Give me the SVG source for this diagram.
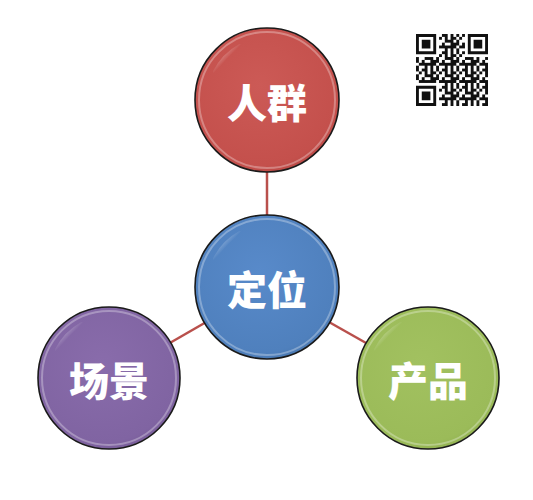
<svg xmlns="http://www.w3.org/2000/svg" width="533" height="500" viewBox="0 0 533 500">
<defs>
<style>
.lbl{font-family:"Noto Sans CJK SC","Noto Sans",sans-serif;font-weight:900;font-size:40px;fill:#fff;text-anchor:middle;dominant-baseline:central}
.ring{fill:none;stroke:#1a1a1a;stroke-width:1.6}
.rim{fill:none;stroke:#fff;stroke-opacity:0.3;stroke-width:2}
.conn{stroke:#b9504c;stroke-width:2.5}
</style>
<radialGradient id="gRed" cx="0.45" cy="0.4" r="0.65"><stop offset="0" stop-color="#cc5a56"/><stop offset="0.85" stop-color="#c4504c"/><stop offset="1" stop-color="#b84744"/></radialGradient>
<radialGradient id="gBlue" cx="0.45" cy="0.4" r="0.65"><stop offset="0" stop-color="#588aca"/><stop offset="0.85" stop-color="#4f80bd"/><stop offset="1" stop-color="#4675ad"/></radialGradient>
<radialGradient id="gPur" cx="0.45" cy="0.4" r="0.65"><stop offset="0" stop-color="#896cab"/><stop offset="0.85" stop-color="#8064a2"/><stop offset="1" stop-color="#755a96"/></radialGradient>
<radialGradient id="gGrn" cx="0.45" cy="0.4" r="0.65"><stop offset="0" stop-color="#a2c160"/><stop offset="0.85" stop-color="#9bbb59"/><stop offset="1" stop-color="#8eae4e"/></radialGradient>
<linearGradient id="hl" x1="0" y1="0" x2="1" y2="1"><stop offset="0" stop-color="#fff" stop-opacity="0.7"/><stop offset="0.5" stop-color="#fff" stop-opacity="0"/></linearGradient>
<pattern id="qr" width="7" height="6" patternUnits="userSpaceOnUse">
<path d="M0 0h1v1h-1zM2 0h2v1h-2zM5 0h1v2h-1zM1 1h1v1h-1zM3 1h1v2h-1zM0 2h1v2h-1zM4 2h2v1h-2zM6 1h1v1h-1zM2 3h1v1h-1zM5 3h2v2h-2zM1 4h2v1h-2zM3 4h1v2h-1zM0 5h1v1h-1zM5 5h1v1h-1zM4 4h1v1h-1z" fill="#111"/>
</pattern>
</defs>
<rect width="533" height="500" fill="#fff"/>
<g id="connectors">
<line class="conn" x1="267" y1="100" x2="267" y2="287"/>
<line class="conn" x1="267" y1="287" x2="109" y2="378"/>
<line class="conn" x1="267" y1="287" x2="428" y2="378"/>
</g>
<g id="node-renqun">
<circle cx="267" cy="100" r="72" fill="url(#gRed)"/>
<circle class="rim" cx="267" cy="100" r="68"/>
<path d="M215 72 A60 60 0 0 1 240 46" fill="none" stroke="url(#hl)" stroke-width="4" stroke-linecap="round"/>
<circle class="ring" cx="267" cy="100" r="72"/>
<text class="lbl" x="267" y="101">人群</text>
</g>
<g id="node-dingwei">
<circle cx="267" cy="287" r="72" fill="url(#gBlue)"/>
<circle class="rim" cx="267" cy="287" r="68"/>
<path d="M215 259 A60 60 0 0 1 240 233" fill="none" stroke="url(#hl)" stroke-width="4" stroke-linecap="round"/>
<circle class="ring" cx="267" cy="287" r="72"/>
<text class="lbl" x="267" y="288">定位</text>
</g>
<g id="node-changjing">
<circle cx="109" cy="378" r="71" fill="url(#gPur)"/>
<circle class="rim" cx="109" cy="378" r="67"/>
<path d="M57 350 A60 60 0 0 1 82 324" fill="none" stroke="url(#hl)" stroke-width="4" stroke-linecap="round"/>
<circle class="ring" cx="109" cy="378" r="71"/>
<text class="lbl" x="109" y="379">场景</text>
</g>
<g id="node-chanpin">
<circle cx="428" cy="378" r="71" fill="url(#gGrn)"/>
<circle class="rim" cx="428" cy="378" r="67"/>
<path d="M376 350 A60 60 0 0 1 401 324" fill="none" stroke="url(#hl)" stroke-width="4" stroke-linecap="round"/>
<circle class="ring" cx="428" cy="378" r="71"/>
<text class="lbl" x="428" y="379">产品</text>
</g>
<g id="qrcode" transform="translate(416 34) scale(2.88)">
<rect width="25" height="25" fill="url(#qr)"/>
<rect width="8" height="8" fill="#fff"/>
<rect x="17" width="8" height="8" fill="#fff"/>
<rect y="17" width="8" height="8" fill="#fff"/>
<path d="M0 0h7v7h-7zM1 1v5h5v-5zM2 2h3v3h-3z M18 0h7v7h-7zM19 1v5h5v-5zM20 2h3v3h-3z M0 18h7v7h-7zM1 19v5h5v-5zM2 20h3v3h-3z" fill="#111" fill-rule="evenodd"/>
</g>
</svg>
